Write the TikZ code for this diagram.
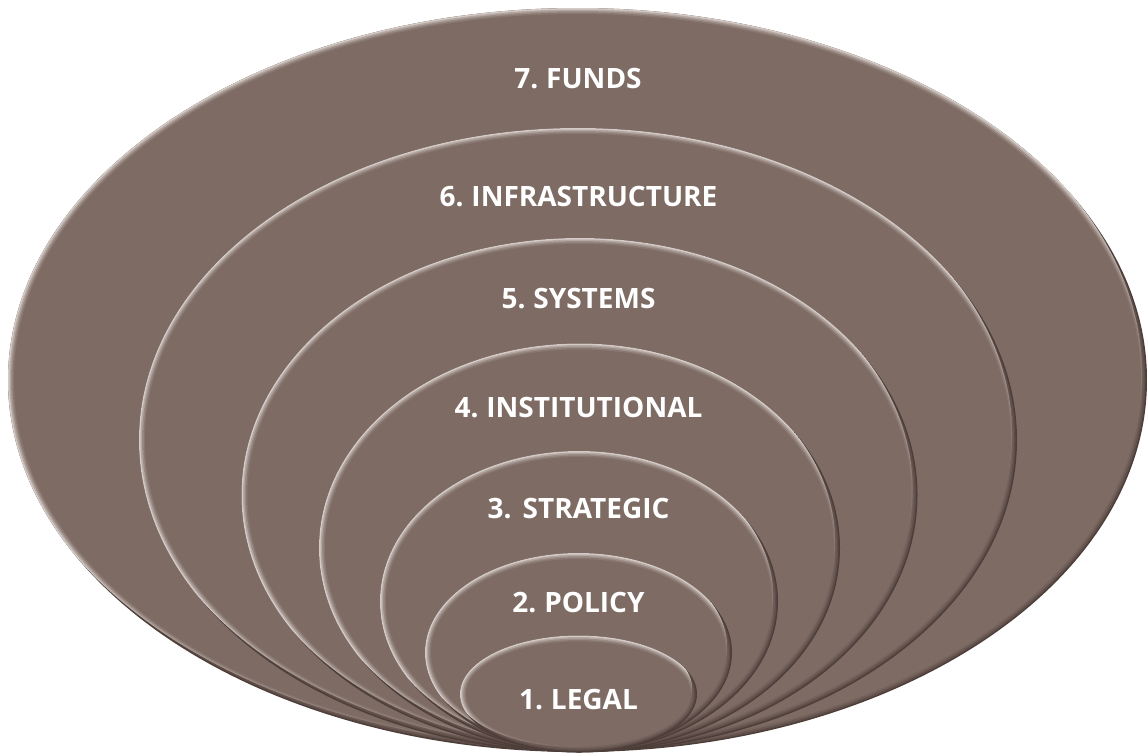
\documentclass[tikz,border=0pt]{standalone}
\usepackage{fontspec}
\setmainfont{Open Sans}[BoldFont={Open Sans Bold}, WordSpace={0.75}]
\definecolor{basebrown}{RGB}{125,107,100}
\definecolor{rimlight}{RGB}{212,202,198}
\definecolor{rimdark}{RGB}{78,62,57}
\begin{document}
\begin{tikzpicture}[x=1pt,y=-1pt,
  layerlabel/.style={text=white,font=\fontsize{28}{30}\selectfont\bfseries,anchor=center,inner sep=0pt}]
\useasboundingbox (0,0) rectangle (1147,755);
\foreach \cx/\cy/\rx/\ry in {577.5/380/569.5/372, 578/440/439/312, 579.5/495/338/257, 579.5/548/260.5/204.5, 579/601.5/199/150.5, 578.5/652.5/153.5/99.5, 578.5/694/118.5/58.5}{
  \fill[rimdark] (\cx,\cy) ellipse [x radius=\rx, y radius=\ry];
  \begin{scope}
    \clip (\cx,\cy) ellipse [x radius=\rx, y radius=\ry];
    \fill[rimlight] (\cx-5,\cy-6) ellipse [x radius=\rx, y radius=\ry];
  \end{scope}
  \fill[basebrown,opacity=0.35] (\cx,\cy) ellipse [x radius=\rx-1.5, y radius=\ry-1.5];
  \fill[basebrown,opacity=0.45] (\cx,\cy) ellipse [x radius=\rx-3, y radius=\ry-3];
  \fill[basebrown,opacity=0.6] (\cx,\cy) ellipse [x radius=\rx-4.5, y radius=\ry-4.5];
  \fill[basebrown] (\cx,\cy) ellipse [x radius=\rx-6, y radius=\ry-6];
}
\node[layerlabel] (l7) at (578,79) {7. FUNDS};
\node[layerlabel] (l6) at (578.5,197) {6. INFRASTRUCTURE};
\node[layerlabel] (l5) at (578.5,299) {5. SYSTEMS};
\node[layerlabel] (l4) at (578.5,408) {4. INSTITUTIONAL};
\node[layerlabel] (l3) at (578.5,509) {3.\hspace{0.4em}STRATEGIC};
\node[layerlabel] (l2) at (578.5,603) {2. POLICY};
\node[layerlabel] (l1) at (578.5,700) {1. LEGAL};
\end{tikzpicture}
\end{document}
